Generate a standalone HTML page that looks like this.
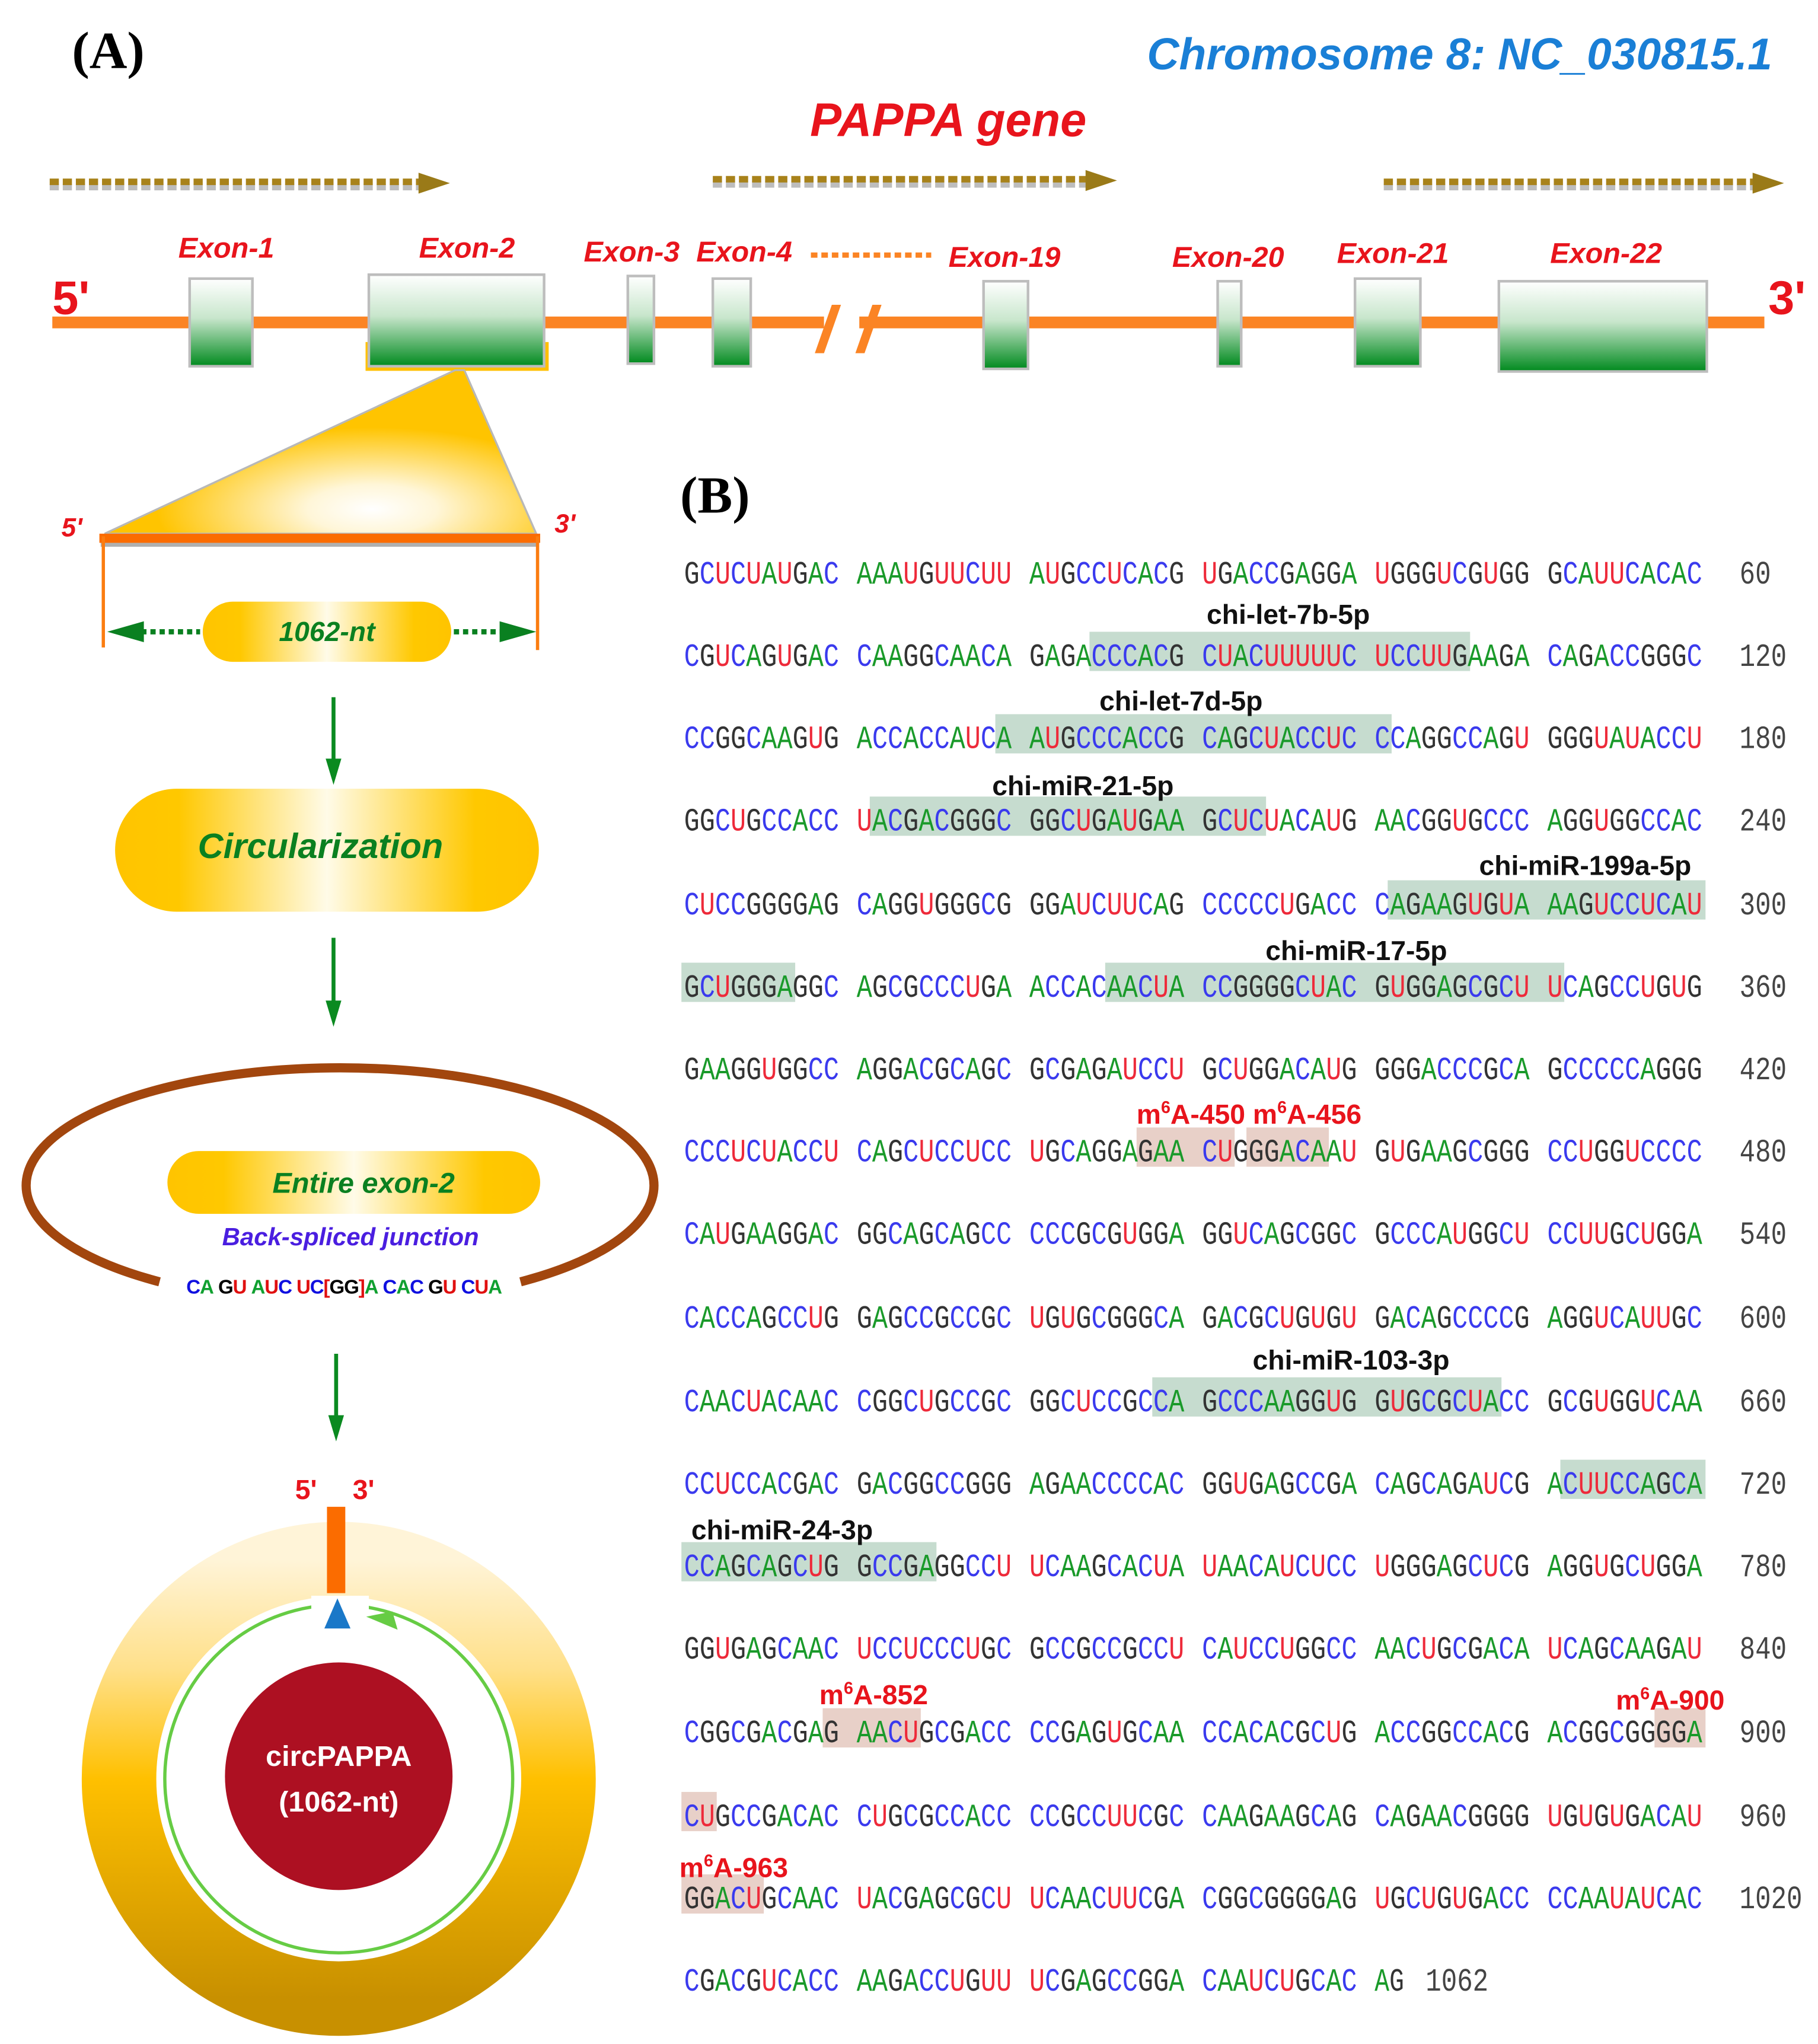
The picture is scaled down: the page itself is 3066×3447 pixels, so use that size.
<!DOCTYPE html>
<html><head><meta charset="utf-8"><style>
html,body{margin:0;padding:0;background:#fff}
svg{display:block}
</style></head><body>
<svg id="s" xmlns="http://www.w3.org/2000/svg" width="3066" height="3447" viewBox="0 0 1390 1562.7">
<defs>
<linearGradient id="ex" x1="0" y1="0" x2="0" y2="1"><stop offset="0" stop-color="#ffffff"/><stop offset="0.45" stop-color="#c8e6cc"/><stop offset="1" stop-color="#008a1e"/></linearGradient>
<linearGradient id="pill" x1="0" y1="0" x2="1" y2="0"><stop offset="0" stop-color="#ffc400"/><stop offset="0.15" stop-color="#ffc800"/><stop offset="0.5" stop-color="#fffbe8"/><stop offset="0.85" stop-color="#ffc800"/><stop offset="1" stop-color="#ffc400"/></linearGradient>
<radialGradient id="tri" cx="0.62" cy="0.85" r="0.5"><stop offset="0" stop-color="#ffffff"/><stop offset="0.3" stop-color="#fff6d8"/><stop offset="1" stop-color="#ffc400"/></radialGradient>
<linearGradient id="ring" x1="0" y1="0" x2="0" y2="1"><stop offset="0" stop-color="#fff4d8"/><stop offset="0.25" stop-color="#ffe08a"/><stop offset="0.5" stop-color="#ffc000"/><stop offset="1" stop-color="#c89000"/></linearGradient>
</defs>

<text x="55" y="52" font-family="Liberation Serif, serif" font-weight="bold" font-size="40">(A)</text>
<text x="1355" y="53" text-anchor="end" font-family="Liberation Sans, sans-serif" font-weight="bold" font-style="italic" font-size="34" fill="#1a7fd6">Chromosome 8: NC_030815.1</text>
<text x="725" y="104" text-anchor="middle" font-family="Liberation Sans, sans-serif" font-weight="bold" font-style="italic" font-size="36" fill="#e8141c">PAPPA gene</text>

<g stroke-width="5" stroke-dasharray="7,3">
<line x1="38" y1="143" x2="322" y2="143" stroke="#bdbdbd"/>
<line x1="545" y1="141" x2="832" y2="141" stroke="#bdbdbd"/>
<line x1="1058" y1="143" x2="1342" y2="143" stroke="#bdbdbd"/>
<line x1="38" y1="139" x2="322" y2="139" stroke="#a8821a"/>
<line x1="545" y1="137" x2="832" y2="137" stroke="#a8821a"/>
<line x1="1058" y1="139" x2="1342" y2="139" stroke="#a8821a"/>
</g>
<polygon points="320,132 344,140 320,148" fill="#9a7a18"/>
<polygon points="830,130 854,138 830,146" fill="#9a7a18"/>
<polygon points="1340,132 1364,140 1340,148" fill="#9a7a18"/>

<rect x="40" y="242" width="590" height="9" fill="#fb8424"/>
<rect x="657" y="242" width="692" height="9" fill="#fb8424"/>
<polygon points="636,233 643,233 630,270 623,270" fill="#fb8424"/>
<polygon points="667,233 674,233 661,270 654,270" fill="#fb8424"/>
<text x="40" y="240" font-family="Liberation Sans, sans-serif" font-weight="bold" font-size="36" fill="#e8141c">5'</text>
<text x="1352" y="240" font-family="Liberation Sans, sans-serif" font-weight="bold" font-size="36" fill="#e8141c">3'</text>
<line x1="620" y1="195" x2="712" y2="195" stroke="#fb8424" stroke-width="4" stroke-dasharray="5,3"/>

<rect x="281" y="263" width="137" height="19" fill="none" stroke="#ffc000" stroke-width="3"/>
<g stroke="#bdbdbd" stroke-width="2" fill="url(#ex)">
<rect x="145" y="213" width="48" height="67"/>
<rect x="282" y="210" width="134" height="70"/>
<rect x="480" y="211" width="20" height="67"/>
<rect x="545" y="213" width="29" height="67"/>
<rect x="752" y="215" width="34" height="67"/>
<rect x="931" y="215" width="18" height="65"/>
<rect x="1036" y="213" width="50" height="67"/>
<rect x="1146" y="215" width="159" height="69"/>
</g>
<g font-family="Liberation Sans, sans-serif" font-weight="bold" font-style="italic" font-size="22" fill="#e8141c" text-anchor="middle">
<text x="173" y="197">Exon-1</text>
<text x="357" y="197">Exon-2</text>
<text x="483" y="200">Exon-3</text>
<text x="569" y="200">Exon-4</text>
<text x="768" y="204">Exon-19</text>
<text x="939" y="204">Exon-20</text>
<text x="1065" y="201">Exon-21</text>
<text x="1228" y="201">Exon-22</text>
</g>

<polygon points="348,283 355,283 410,408 80,408" fill="url(#tri)" stroke="#b8b8b8" stroke-width="1.5"/>
<rect x="77" y="413" width="335" height="5" fill="#b0b0b0"/>
<rect x="76" y="408" width="337" height="7" fill="#fb6c00"/>
<line x1="79" y1="410" x2="79" y2="495" stroke="#fb7c10" stroke-width="2.5"/>
<line x1="411" y1="410" x2="411" y2="497" stroke="#fb7c10" stroke-width="2.5"/>
<text x="47" y="410" font-family="Liberation Sans, sans-serif" font-weight="bold" font-style="italic" font-size="20" fill="#e8141c">5'</text>
<text x="424" y="407" font-family="Liberation Sans, sans-serif" font-weight="bold" font-style="italic" font-size="20" fill="#e8141c">3'</text>

<rect x="155" y="460" width="190" height="46" rx="23" fill="url(#pill)"/>
<text x="250" y="490" text-anchor="middle" font-family="Liberation Sans, sans-serif" font-weight="bold" font-style="italic" font-size="21" fill="#0a8020">1062-nt</text>
<g stroke="#0a8020" stroke-width="4" stroke-dasharray="4,3">
<line x1="108" y1="483" x2="153" y2="483"/><line x1="347" y1="483" x2="388" y2="483"/>
</g>
<polygon points="82,483 110,475 110,491" fill="#0a8020"/>
<polygon points="410,483 382,475 382,491" fill="#0a8020"/>

<g stroke="#0a8a20" stroke-width="3"><line x1="255" y1="533" x2="255" y2="585"/><line x1="255" y1="717" x2="255" y2="770"/><line x1="257" y1="1035" x2="257" y2="1087"/></g>
<g fill="#0a8a20"><polygon points="249,580 261,580 255,600"/><polygon points="249,765 261,765 255,785"/><polygon points="251,1082 263,1082 257,1102"/></g>

<rect x="88" y="603" width="324" height="94" rx="47" fill="url(#pill)"/>
<text x="245" y="656" text-anchor="middle" font-family="Liberation Sans, sans-serif" font-weight="bold" font-style="italic" font-size="27" fill="#0a8020">Circularization</text>

<path d="M 122,980 A 240 90 0 1 1 398,980" fill="none" stroke="#a2460e" stroke-width="7"/>
<rect x="128" y="880" width="285" height="48" rx="24" fill="url(#pill)"/>
<text x="278" y="912" text-anchor="middle" font-family="Liberation Sans, sans-serif" font-weight="bold" font-style="italic" font-size="22" fill="#0a8020">Entire exon-2</text>
<text x="268" y="952" text-anchor="middle" font-family="Liberation Sans, sans-serif" font-weight="bold" font-style="italic" font-size="19" fill="#4a1ee0">Back-spliced junction</text>
<text x="263" y="989" text-anchor="middle" font-family="Liberation Sans, sans-serif" font-weight="bold" font-size="15" letter-spacing="-0.5"><tspan fill="#1010e0">C</tspan><tspan fill="#10a030">A</tspan> <tspan fill="#000">G</tspan><tspan fill="#e01010">U</tspan> <tspan fill="#10a030">A</tspan><tspan fill="#e01010">U</tspan><tspan fill="#1010e0">C</tspan> <tspan fill="#e01010">U</tspan><tspan fill="#1010e0">C</tspan><tspan fill="#e01010">[</tspan><tspan fill="#000">GG</tspan><tspan fill="#e01010">]</tspan><tspan fill="#10a030">A</tspan> <tspan fill="#1010e0">C</tspan><tspan fill="#10a030">A</tspan><tspan fill="#1010e0">C</tspan> <tspan fill="#000">G</tspan><tspan fill="#e01010">U</tspan> <tspan fill="#1010e0">C</tspan><tspan fill="#e01010">U</tspan><tspan fill="#10a030">A</tspan></text>

<text x="234" y="1146" text-anchor="middle" font-family="Liberation Sans, sans-serif" font-weight="bold" font-size="21" fill="#e8141c">5'</text>
<text x="278" y="1146" text-anchor="middle" font-family="Liberation Sans, sans-serif" font-weight="bold" font-size="21" fill="#e8141c">3'</text>
<circle cx="259" cy="1360" r="168" fill="none" stroke="url(#ring)" stroke-width="57"/>
<circle cx="259" cy="1360" r="133" fill="none" stroke="#66cc44" stroke-width="2.5"/>
<rect x="250" y="1152" width="14" height="66" fill="#fb6c00"/>
<rect x="238" y="1220" width="44" height="20" fill="#fff"/>
<polygon points="258,1222 248,1245 268,1245" fill="#1a78c8"/>
<polygon points="280,1236 304,1246 300,1232" fill="#66cc44"/>
<circle cx="259" cy="1358" r="87" fill="#ad1022"/>
<text x="259" y="1350" text-anchor="middle" font-family="Liberation Sans, sans-serif" font-weight="bold" font-size="22" fill="#fff">circPAPPA</text>
<text x="259" y="1385" text-anchor="middle" font-family="Liberation Sans, sans-serif" font-weight="bold" font-size="22" fill="#fff">(1062-nt)</text>

<text x="520" y="392" font-family="Liberation Serif, serif" font-weight="bold" font-size="40">(B)</text>
<g id="hl"></g>
<g id="seq"></g>
<g font-family="Liberation Sans, sans-serif" font-weight="bold" font-size="21" fill="#111" text-anchor="middle">
<text x="985" y="477">chi-let-7b-5p</text>
<text x="903" y="543">chi-let-7d-5p</text>
<text x="828" y="608">chi-miR-21-5p</text>
<text x="1212" y="669">chi-miR-199a-5p</text>
<text x="1037" y="734">chi-miR-17-5p</text>
<text x="1033" y="1047">chi-miR-103-3p</text>
<text x="598" y="1177">chi-miR-24-3p</text>
</g>
<g font-family="Liberation Sans, sans-serif" font-weight="bold" font-size="21" fill="#e8141c" text-anchor="middle">
<text x="955" y="859">m<tspan font-size="13" dy="-8">6</tspan><tspan dy="8">A-450 m</tspan><tspan font-size="13" dy="-8">6</tspan><tspan dy="8">A-456</tspan></text>
<text x="668" y="1303">m<tspan font-size="13" dy="-8">6</tspan><tspan dy="8">A-852</tspan></text>
<text x="1277" y="1307">m<tspan font-size="13" dy="-8">6</tspan><tspan dy="8">A-900</tspan></text>
<text x="561" y="1435">m<tspan font-size="13" dy="-8">6</tspan><tspan dy="8">A-963</tspan></text>
</g>
</svg>
<script>
var rows=[
"GCUCUAUGACAAAUGUUCUUAUGCCUCACGUGACCGAGGAUGGGUCGUGGGCAUUCACAC",
"CGUCAGUGACCAAGGCAACAGAGACCCACGCUACUUUUUCUCCUUGAAGACAGACCGGGC",
"CCGGCAAGUGACCACCAUCAAUGCCCACCGCAGCUACCUCCCAGGCCAGUGGGUAUACCU",
"GGCUGCCACCUACGACGGGCGGCUGAUGAAGCUCUACAUGAACGGUGCCCAGGUGGCCAC",
"CUCCGGGGAGCAGGUGGGCGGGAUCUUCAGCCCCCUGACCCAGAAGUGUAAAGUCCUCAU",
"GCUGGGAGGCAGCGCCCUGAACCACAACUACCGGGGCUACGUGGAGCGCUUCAGCCUGUG",
"GAAGGUGGCCAGGACGCAGCGCGAGAUCCUGCUGGACAUGGGGACCCGCAGCCCCCAGGG",
"CCCUCUACCUCAGCUCCUCCUGCAGGAGAACUGGGACAAUGUGAAGCGGGCCUGGUCCCC",
"CAUGAAGGACGGCAGCAGCCCCCGCGUGGAGGUCAGCGGCGCCCAUGGCUCCUUGCUGGA",
"CACCAGCCUGGAGCCGCCGCUGUGCGGGCAGACGCUGUGUGACAGCCCCGAGGUCAUUGC",
"CAACUACAACCGGCUGCCGCGGCUCCGCCAGCCCAAGGUGGUGCGCUACCGCGUGGUCAA",
"CCUCCACGACGACGGCCGGGAGAACCCCACGGUGAGCCGACAGCAGAUCGACUUCCAGCA",
"CCAGCAGCUGGCCGAGGCCUUCAAGCACUAUAACAUCUCCUGGGAGCUCGAGGUGCUGGA",
"GGUGAGCAACUCCUCCCUGCGCCGCCGCCUCAUCCUGGCCAACUGCGACAUCAGCAAGAU",
"CGGCGACGAGAACUGCGACCCCGAGUGCAACCACACGCUGACCGGCCACGACGGCGGGGA",
"CUGCCGACACCUGCGCCACCCCGCCUUCGCCAAGAAGCAGCAGAACGGGGUGUGUGACAU",
"GGACUGCAACUACGAGCGCUUCAACUUCGACGGCGGGGAGUGCUGUGACCCCAAUAUCAC",
"CGACGUCACCAAGACCUGUUUCGAGCCGGACAAUCUGCACAG"];
var ys=[437,500,563,626,690,753,816,879,942,1006,1070,1133,1196,1259,1323,1387,1450,1513];
var col={A:"#1a9a2a",C:"#3a3aee",G:"#333333",U:"#ee2a3a"};
var hls=[[1,24,45,0],[2,19,40,0],[3,11,33,0],[4,41,59,0],[5,0,6,0],[5,25,50,0],[7,27,31,1],[7,33,37,1],[10,28,47,0],[11,51,59,0],[12,0,14,0],[14,9,13,1],[14,57,59,1],[15,0,1,1],[16,0,4,1]];
var NS="http://www.w3.org/2000/svg";
function pos(i){return 523+Math.floor(i/10)*132+(i%10)*12;}
var hl=document.getElementById("hl"),sq=document.getElementById("seq");
hls.forEach(function(h){var r=document.createElementNS(NS,"rect");var x1=pos(h[1])-2,x2=pos(h[2])+13;
r.setAttribute("x",x1);r.setAttribute("y",ys[h[0]]-17);r.setAttribute("width",x2-x1);r.setAttribute("height",30);
r.setAttribute("fill",h[3]?"#e8d0c8":"#c6dccf");hl.appendChild(r);});
rows.forEach(function(s,ri){
 for(var g=0;g*10<s.length;g++){var part=s.substr(g*10,10);
  var t=document.createElementNS(NS,"text");t.setAttribute("x",523+g*132);t.setAttribute("y",ys[ri]+9);
  t.setAttribute("font-family","Liberation Mono, monospace");t.setAttribute("font-size","25");
  t.setAttribute("textLength",part.length*12-1.5);t.setAttribute("lengthAdjust","spacingAndGlyphs");
  for(var k=0;k<part.length;k++){var sp=document.createElementNS(NS,"tspan");sp.setAttribute("fill",col[part[k]]);sp.textContent=part[k];t.appendChild(sp);}
  sq.appendChild(t);}
 var n=document.createElementNS(NS,"text");n.setAttribute("font-family","Liberation Mono, monospace");n.setAttribute("font-size","25");n.setAttribute("fill","#444");
 n.setAttribute("y",ys[ri]+9);
 var txt=ri<17?String((ri+1)*60):"1062";
 n.setAttribute("x",ri<17?1330:1090);
 n.setAttribute("textLength",txt.length*12);n.setAttribute("lengthAdjust","spacingAndGlyphs");n.textContent=txt;
 sq.appendChild(n);
});
</script>
</body></html>
